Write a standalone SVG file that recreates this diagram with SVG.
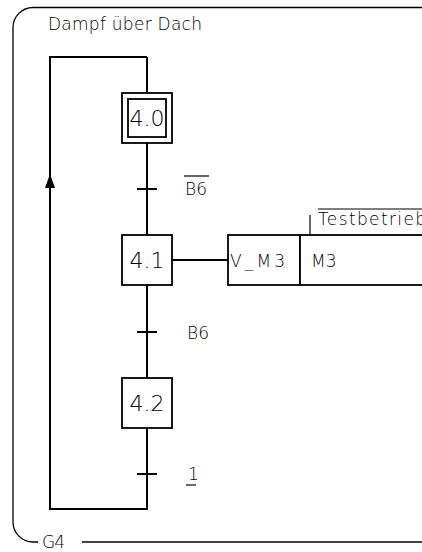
<svg xmlns="http://www.w3.org/2000/svg" width="422" height="552" viewBox="0 0 422 552">
<style>
.frame{fill:none;stroke:#000;stroke-width:1.3}
.ln{fill:none;stroke:#000;stroke-width:2}
.box{fill:#fff;stroke:#000;stroke-width:1.8}
.t{font-family:"DejaVu Sans","Liberation Sans",Arial,sans-serif;fill:#000;font-weight:200}
.tl{font-size:17px}
.ts{font-size:22px;text-anchor:middle}
.tm{font-size:17px}
.thin{stroke:#000;stroke-width:1.2;fill:none}
</style>
<defs>
<marker id="arr" viewBox="0 0 14 10" refX="14" refY="5" markerWidth="14" markerHeight="10" markerUnits="userSpaceOnUse" orient="auto">
<path d="M0,0 L14,5 L0,10 Z" fill="#000"/>
</marker>
</defs>
<g id="frame">
<path class="frame" d="M38,542 L33,542 A20,20 0 0 1 13,522 L13,27.5 A20,20 0 0 1 33,7.5 L425,7.5 A15,15 0 0 1 440,22.5"/>
<path class="frame" d="M82,542 L422,542"/>
<text class="t tl" x="48" y="30" textLength="154" lengthAdjust="spacing">Dampf über Dach</text>
<text class="t tm" x="42" y="548" textLength="23" lengthAdjust="spacing">G4</text>
</g>
<g id="connectors">
<path class="ln" d="M147,57 L147,93 M147,143 L147,235 M147,285 L147,378 M147,428 L147,509 L50,509 L50,57 L147,57"/>
<path class="ln" d="M50,200 L50,174" marker-end="url(#arr)"/>
<path class="ln" d="M172,260 L228,260"/>
</g>
<g id="t1">
<path class="ln" d="M137,189 L157,189"/>
<text class="t tm" x="185" y="195">B6</text>
<path class="thin" d="M184,176 L209,176"/>
</g>
<g id="t2">
<path class="ln" d="M137,332 L157,332"/>
<text class="t tm" x="187" y="339">B6</text>
</g>
<g id="t3">
<path class="ln" d="M137,474 L157,474"/>
<text class="t tm" x="188" y="480">1</text>
<path class="thin" d="M186,485 L196,485"/>
</g>
<g id="step40">
<rect class="box" x="122" y="93" width="50" height="50"/>
<rect class="box" x="128" y="99" width="38" height="38"/>
<text class="t ts" x="147" y="126">4.0</text>
</g>
<g id="step41">
<rect class="box" x="122" y="235" width="50" height="50"/>
<text class="t ts" x="147" y="268">4.1</text>
</g>
<g id="step42">
<rect class="box" x="122" y="378" width="50" height="50"/>
<text class="t ts" x="147" y="411">4.2</text>
</g>
<g id="action">
<rect class="box" x="228" y="235" width="72" height="50"/>
<rect class="box" x="300" y="235" width="140" height="50"/>
<text class="t tm" x="230" y="267" textLength="55" lengthAdjust="spacing">V_M3</text>
<text class="t tm" x="311" y="267">M3</text>
<path class="thin" d="M310,215 L310,235"/>
<path class="thin" d="M318,209 L422,209"/>
<text class="t tm" x="318" y="225" textLength="108" lengthAdjust="spacing">Testbetrieb</text>
</g>
</svg>
